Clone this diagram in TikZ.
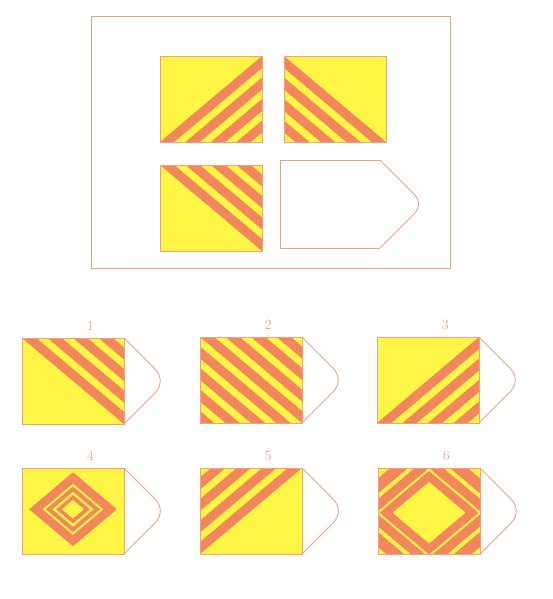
\documentclass[tikz,border=0pt]{standalone}
\usepackage{tikz}
\usetikzlibrary{calc}
\definecolor{flagyellow}{HTML}{FFF545}
\definecolor{flagorange}{HTML}{F2875E}
\definecolor{flagline}{HTML}{ECA384}

\tikzset{
  stripe/.style={fill=flagorange},
  field/.style={fill=flagyellow},
  edge/.style={draw=flagorange!80, line width=0.8pt},
  tail/.style={draw=flagline, line width=0.9pt, rounded corners=16pt},
  frame/.style={draw=flagline, line width=0.9pt},
  num/.style={font=\fontsize{14}{16}\selectfont, text=flagline},
  flag/.style={shift={#1}, x={(102pt,0pt)}, y={(0pt,86pt)}},
}

% band with u-v in [#1,#2]
\newcommand{\bandup}[2]{%
  \fill[stripe] (#1-1,-1) -- (#1+2,2) -- (#2+2,2) -- (#2-1,-1) -- cycle;}
% band with u+v in [#1,#2]
\newcommand{\banddown}[2]{%
  \fill[stripe] (#1+1,-1) -- (#1-2,2) -- (#2-2,2) -- (#2+1,-1) -- cycle;}
% diamond ring about (0.5,#1), between sizes #2 and #3
\newcommand{\ring}[3]{%
  \fill[stripe,even odd rule]
    (0.5-#3/2,#1) -- (0.5,#1+#3/2) -- (0.5+#3/2,#1) -- (0.5,#1-#3/2) -- cycle
    (0.5-#2/2,#1) -- (0.5,#1+#2/2) -- (0.5+#2/2,#1) -- (0.5,#1-#2/2) -- cycle;}
% yellow field with its pattern
\newcommand{\flagfield}[1]{%
  \begin{scope}
    \clip (0,0) rectangle (1,1);
    \fill[field] (0,0) rectangle (1,1);
    #1
  \end{scope}
  \draw[edge] (0,0) rectangle (1,1);}

\begin{document}
\begin{tikzpicture}[x=1pt,y=-1pt]
  \useasboundingbox (0,0) rectangle (553,599);

  % the puzzle
  \draw[frame] (91,16) rectangle (450,268);
  \begin{scope}[flag={(160,142)}]
    \flagfield{\foreach \c in {0,0.25,0.5,0.75} {\bandup{\c}{\c+0.14}}}
  \end{scope}
  \begin{scope}[flag={(284,142)}]
    \flagfield{\foreach \c in {0.11,0.36,0.61,0.86} {\banddown{\c}{\c+0.14}}}
  \end{scope}
  \begin{scope}[flag={(160,251)}]
    \flagfield{\foreach \c in {1,1.25,1.5,1.75} {\banddown{\c}{\c+0.14}}}
  \end{scope}
  \begin{scope}[shift={(280,248)}, x={(100pt,0pt)}, y={(0pt,88pt)}]
    \draw[edge, draw=flagline] (1,1) -- (0,1) -- (0,0) -- (1,0);
    \draw[tail, rounded corners=13pt] (1,1) -- (1.44,0.5) -- (1,0);
  \end{scope}

  % the answers
  \begin{scope}[flag={(22,424)}]
    \flagfield{\foreach \c in {1,1.25,1.5,1.75} {\banddown{\c}{\c+0.14}}}
    \draw[tail] (1,1) -- (1.42,0.5) -- (1,0);
    \node[num] (opt1) at (0.67,1.14) {1};
  \end{scope}
  \begin{scope}[flag={(200,423)}]
    \flagfield{\foreach \c in {0,0.25,...,1.75} {\banddown{\c}{\c+0.14}}}
    \draw[tail] (1,1) -- (1.42,0.5) -- (1,0);
    \node[num] (opt2) at (0.67,1.14) {2};
  \end{scope}
  \begin{scope}[flag={(377,423)}]
    \flagfield{\foreach \c in {0,0.25,0.5,0.75} {\bandup{\c}{\c+0.14}}}
    \draw[tail] (1,1) -- (1.42,0.5) -- (1,0);
    \node[num] (opt3) at (0.67,1.14) {3};
  \end{scope}
  \begin{scope}[flag={(22,554)}]
    \flagfield{\ring{0.52}{0.6}{0.86}\ring{0.52}{0.41}{0.53}\ring{0.52}{0.22}{0.33}}
    \draw[tail] (1,1) -- (1.42,0.5) -- (1,0);
    \node[num] (opt4) at (0.67,1.14) {4};
  \end{scope}
  \begin{scope}[flag={(200,554)}]
    \flagfield{\foreach \c in {-0.14,-0.39,-0.64,-0.89} {\bandup{\c}{\c+0.14}}}
    \draw[tail] (1,1) -- (1.42,0.5) -- (1,0);
    \node[num] (opt5) at (0.67,1.14) {5};
  \end{scope}
  \begin{scope}[flag={(378,554)}]
    \flagfield{\ring{0.48}{0.72}{0.97}\ring{0.48}{1.04}{1.32}\ring{0.48}{1.45}{1.8}}
    \draw[tail] (1,1) -- (1.42,0.5) -- (1,0);
    \node[num] (opt6) at (0.67,1.14) {6};
  \end{scope}
\end{tikzpicture}
\end{document}
